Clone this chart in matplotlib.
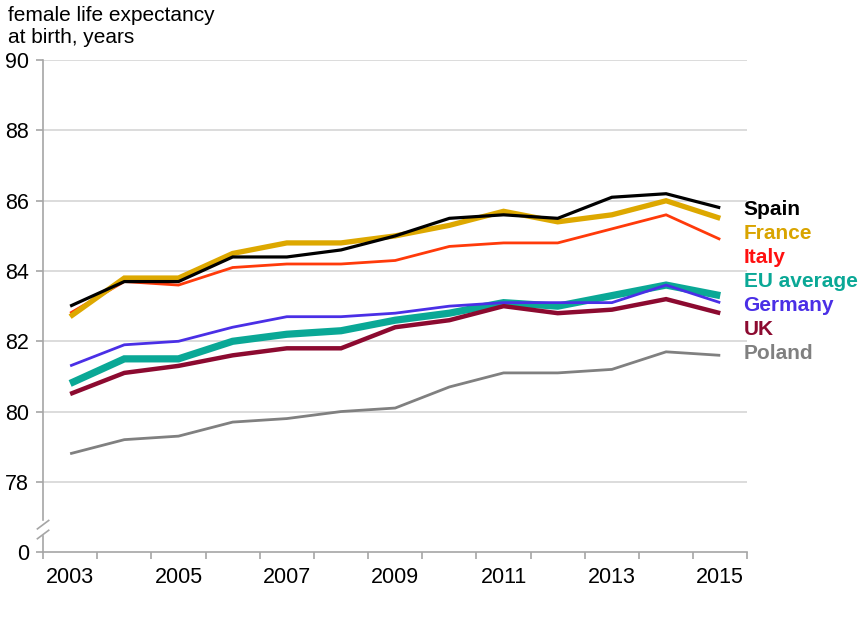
import matplotlib
matplotlib.use("Agg")
import matplotlib.pyplot as plt
from matplotlib.transforms import blended_transform_factory

plt.rcParams['font.family'] = ['Liberation Sans', 'DejaVu Sans']

years = list(range(2003, 2016))
spain   = [83.0, 83.7, 83.7, 84.4, 84.4, 84.6, 85.0, 85.5, 85.6, 85.5, 86.1, 86.2, 85.8]
france  = [82.7, 83.8, 83.8, 84.5, 84.8, 84.8, 85.0, 85.3, 85.7, 85.4, 85.6, 86.0, 85.5]
italy   = [82.8, 83.7, 83.6, 84.1, 84.2, 84.2, 84.3, 84.7, 84.8, 84.8, 85.2, 85.6, 84.9]
eu      = [80.8, 81.5, 81.5, 82.0, 82.2, 82.3, 82.6, 82.8, 83.1, 83.0, 83.3, 83.6, 83.3]
germany = [81.3, 81.9, 82.0, 82.4, 82.7, 82.7, 82.8, 83.0, 83.1, 83.1, 83.1, 83.6, 83.1]
uk      = [80.5, 81.1, 81.3, 81.6, 81.8, 81.8, 82.4, 82.6, 83.0, 82.8, 82.9, 83.2, 82.8]
poland  = [78.8, 79.2, 79.3, 79.7, 79.8, 80.0, 80.1, 80.7, 81.1, 81.1, 81.2, 81.7, 81.6]

names = ["Spain", "France", "Italy", "EU average", "Germany", "UK", "Poland"]
series = [spain, france, italy, eu, germany, uk, poland]
line_colors = ["#000000", "#DDA800", "#FF3A0A", "#0AA896", "#4A2FE6", "#8C0A30", "#808080"]
text_colors = ["#000000", "#D9A400", "#FF1010", "#0AA896", "#4A2FE6", "#8C0A30", "#808080"]
widths = [2.3, 3.8, 2.0, 5.2, 2.0, 3.2, 2.0]

ytick_vals = [76, 78, 80, 82, 84, 86, 88, 90]
ytick_labels = ["0", "78", "80", "82", "84", "86", "88", "90"]
xlabel_years = [2003, 2005, 2007, 2009, 2011, 2013, 2015]

fig = plt.figure(figsize=(8.61, 6.21), dpi=100)
ax = fig.add_axes([0.050, 0.111, 0.818, 0.792])
ax.set_xlim(2002.5, 2015.5)
ax.set_ylim(76, 90)

for v in ytick_vals[1:]:
    ax.axhline(v, color="#D9D9D9", lw=1.3, zorder=1)

order = [3, 5, 6, 4, 2, 1, 0]
for i in order:
    ax.plot(years, series[i], color=line_colors[i], lw=widths[i], zorder=3,
            solid_capstyle="butt", solid_joinstyle="miter")

y0 = spain[-1] - 0.05
step = 0.685
for k, (n, c) in enumerate(zip(names, text_colors)):
    ax.text(years[-1] + 0.43, y0 - k * step, n, color=c, fontsize=15, fontweight="bold",
            va="center", ha="left", clip_on=False)

for s in ["top", "right", "left"]:
    ax.spines[s].set_visible(False)
ax.spines["bottom"].set_color("#A6A6A6")
ax.spines["bottom"].set_linewidth(1.2)

bt = blended_transform_factory(ax.transAxes, ax.transData)
ax.plot([0, 0], [76, 76.45], transform=bt, color="#A6A6A6", lw=1.2, clip_on=False)
ax.plot([0, 0], [76.9, 90], transform=bt, color="#A6A6A6", lw=1.2, clip_on=False)
for yb in [76.5, 76.78]:
    ax.plot([-0.008, 0.008], [yb - 0.12, yb + 0.12], transform=bt, color="#A6A6A6",
            lw=1.2, clip_on=False)

ax.set_yticks(ytick_vals)
ax.set_yticklabels(ytick_labels)
ax.tick_params(axis="y", length=5, color="#A6A6A6", width=1.2, labelsize=15.5, pad=5)

ax.set_xticks(xlabel_years)
ax.set_xticklabels([str(y) for y in xlabel_years])
ax.set_xticks([y + 0.5 for y in range(2002, 2016)], minor=True)
ax.tick_params(axis="x", which="major", length=0, labelsize=15.5, pad=11)
ax.tick_params(axis="x", which="minor", length=5, color="#A6A6A6", width=1.2)

fig.text(0.009, 0.99, "female life expectancy\nat birth, years", ha="left", va="top",
         fontsize=15, linespacing=1.2)

fig.savefig("out.png", dpi=100)
